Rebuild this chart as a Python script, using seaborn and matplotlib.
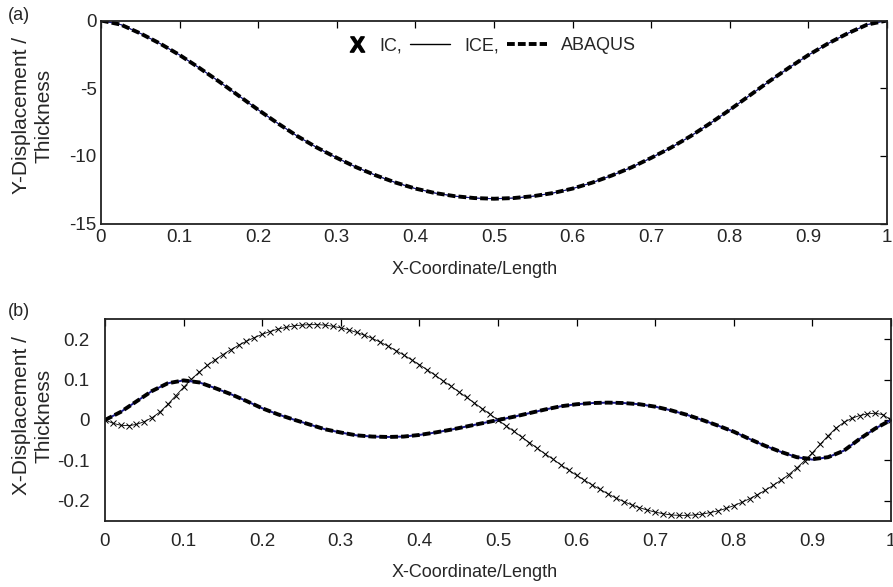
import numpy as np
import matplotlib
matplotlib.use("Agg")
import matplotlib.pyplot as plt
from matplotlib.lines import Line2D
from matplotlib.legend_handler import HandlerLine2DCompound
import seaborn as sns

# ---- data ----
# (a) transverse displacement, sampled every 0.025 of the length
x_a = np.linspace(0, 1, 41)
abaqus_a = [0.00, -0.30, -0.95, -1.70, -2.55, -3.50, -4.50, -5.55, -6.60, -7.60,
            -8.55, -9.40, -10.15, -10.85, -11.45, -11.98, -12.42, -12.75, -12.98, -13.12,
            -13.17, -13.12, -12.98, -12.75, -12.42, -11.98, -11.45, -10.85, -10.15, -9.40,
            -8.55, -7.60, -6.60, -5.55, -4.50, -3.50, -2.55, -1.70, -0.95, -0.30, 0.00]
ice_a = abaqus_a
ic_a = abaqus_a

# (b) axial displacement
x_b = np.linspace(0, 1, 51)
ice_b = [0.000, 0.020, 0.046, 0.072, 0.091, 0.098, 0.093, 0.079, 0.064, 0.047,
         0.029, 0.014, 0.001, -0.011, -0.023, -0.031, -0.038, -0.041, -0.042, -0.041,
         -0.037, -0.031, -0.024, -0.016, -0.008, 0.000, 0.008, 0.017, 0.026, 0.034,
         0.039, 0.042, 0.043, 0.042, 0.039, 0.033, 0.024, 0.013, 0.000, -0.014,
         -0.029, -0.047, -0.064, -0.079, -0.092, -0.098, -0.092, -0.076, -0.047, -0.021,
         0.000]
abaqus_b = [0.000, 0.020, 0.046, 0.072, 0.091, 0.098, 0.093, 0.079, 0.064, 0.047,
            0.029, 0.014, 0.001, -0.011, -0.023, -0.031, -0.038, -0.041, -0.042, -0.041,
            -0.037, -0.031, -0.024, -0.016, -0.008, 0.000, 0.008, 0.017, 0.026, 0.034,
            0.039, 0.042, 0.043, 0.042, 0.039, 0.033, 0.024, 0.013, 0.000, -0.014,
            -0.029, -0.047, -0.064, -0.079, -0.092, -0.097, -0.092, -0.076, -0.047, -0.021,
            0.000]

x_ic = np.linspace(0, 1, 101)
ic_b = [0.000, -0.008, -0.013, -0.014, -0.011, -0.004, 0.006, 0.020, 0.039, 0.060,
        0.081, 0.101, 0.119, 0.135, 0.149, 0.162, 0.174, 0.185, 0.195, 0.204,
        0.212, 0.219, 0.225, 0.229, 0.233, 0.235, 0.236, 0.236, 0.235, 0.232,
        0.228, 0.223, 0.217, 0.210, 0.202, 0.193, 0.183, 0.172, 0.161, 0.149,
        0.137, 0.124, 0.111, 0.097, 0.084, 0.070, 0.056, 0.042, 0.028, 0.014,
        0.000, -0.014, -0.028, -0.042, -0.056, -0.070, -0.084, -0.097, -0.111, -0.124,
        -0.137, -0.149, -0.161, -0.172, -0.183, -0.193, -0.202, -0.210, -0.217, -0.223,
        -0.228, -0.232, -0.235, -0.236, -0.236, -0.235, -0.233, -0.229, -0.225, -0.219,
        -0.212, -0.204, -0.195, -0.185, -0.174, -0.162, -0.149, -0.135, -0.119, -0.101,
        -0.081, -0.060, -0.039, -0.020, -0.006, 0.004, 0.011, 0.015, 0.017, 0.013,
        0.000]

x_ticks = [0, 0.1, 0.2, 0.3, 0.4, 0.5, 0.6, 0.7, 0.8, 0.9, 1]
x_ticklabels = ["0", "0.1", "0.2", "0.3", "0.4", "0.5", "0.6", "0.7", "0.8", "0.9", "1"]
ya_ticks = [-15, -10, -5, 0]
ya_ticklabels = ["-15", "-10", "-5", "0"]
yb_ticks = [-0.2, -0.1, 0, 0.1, 0.2]
yb_ticklabels = ["-0.2", "-0.1", "0", "0.1", "0.2"]

# ---- style ----
sns.set_style("white")
plt.rcParams["font.family"] = ["Liberation Sans", "DejaVu Sans"]
plt.rcParams["font.size"] = 13
plt.rcParams["axes.unicode_minus"] = False
plt.rcParams["mathtext.fontset"] = "custom"
plt.rcParams["mathtext.bf"] = "Liberation Sans:bold"
plt.rcParams["mathtext.rm"] = "Liberation Sans"

ICE_COLOR = "#1a1a8c"
DASH = (0, (2.0, 0.8))

fig = plt.figure(figsize=(8.93, 5.87), dpi=100)
ax_a = fig.add_axes([101 / 893, 1 - 223.5 / 587, 786 / 893, 203 / 587])
ax_b = fig.add_axes([105 / 893, 1 - 521 / 587, 786 / 893, 202 / 587])


def style_axes(ax, yticks, yticklabels, ylim, xpad, ypad):
    ax.set_xlim(0, 1)
    ax.set_ylim(*ylim)
    ax.set_xticks(x_ticks)
    ax.set_xticklabels(x_ticklabels)
    ax.set_yticks(yticks)
    ax.set_yticklabels(yticklabels)
    ax.tick_params(direction="in", top=True, right=True, length=5, width=0.9,
                   labelsize=13.5, color="black")
    ax.tick_params(axis="x", pad=xpad)
    ax.tick_params(axis="y", pad=ypad)
    for s in ax.spines.values():
        s.set_color("#222222")
        s.set_linewidth(1.3)
    ax.set_xlabel("X-Coordinate/Length", fontsize=13)


class RightMarker(HandlerLine2DCompound):
    # put the single marker near the right end of its handle box
    def get_xdata(self, legend, xdescent, ydescent, width, height, fontsize):
        xdata, _ = super().get_xdata(legend, xdescent, ydescent, width, height, fontsize)
        return xdata, np.array([width - xdescent - 6.0])


# panel (a)
sns.lineplot(x=x_a, y=ic_a, ax=ax_a, color="black", lw=0.5, legend=False)
sns.lineplot(x=x_a, y=ice_a, ax=ax_a, color=ICE_COLOR, lw=0.8, legend=False)
sns.lineplot(x=x_a, y=abaqus_a, ax=ax_a, color="black", lw=2.8, linestyle=DASH,
             legend=False)
style_axes(ax_a, ya_ticks, ya_ticklabels, (-15, 0), xpad=4, ypad=3)
ax_a.set_ylabel("Y-Displacement /\nThickness", fontsize=15)
ax_a.yaxis.set_label_coords(-0.061, 0.53)
ax_a.xaxis.set_label_coords(0.475, -0.187)

x_handle = Line2D([], [], color="black", marker=r"$\mathbf{X}$", markersize=11,
                  linestyle="none")
handles = [
    x_handle,
    Line2D([], [], color="black", lw=1.0),
    Line2D([], [], color="black", lw=2.8, linestyle=DASH),
]
ax_a.legend(handles, ["IC,", "ICE,", "ABAQUS"], ncol=3, frameon=False,
            loc="center", bbox_to_anchor=(0.483, 0.875), fontsize=13,
            handlelength=2.2, handletextpad=0.78, columnspacing=0.45,
            handler_map={x_handle: RightMarker(numpoints=1)})

# panel (b)
sns.lineplot(x=x_ic, y=ic_b, ax=ax_b, color="black", lw=0.6, marker="x",
             markersize=3.8, markeredgewidth=0.7, markeredgecolor="black",
             legend=False)
sns.lineplot(x=x_b, y=ice_b, ax=ax_b, color=ICE_COLOR, lw=1.4, legend=False)
sns.lineplot(x=x_b, y=abaqus_b, ax=ax_b, color="black", lw=2.8, linestyle=DASH,
             legend=False)
style_axes(ax_b, yb_ticks, yb_ticklabels, (-0.25, 0.25), xpad=8.3, ypad=11)
ax_b.set_ylabel("X-Displacement /\nThickness", fontsize=15)
ax_b.yaxis.set_label_coords(-0.066, 0.52)
ax_b.xaxis.set_label_coords(0.47, -0.212)

fig.text(8 / 893, 1 - 15 / 587, "(a)", fontsize=13, va="center", ha="left")
fig.text(8 / 893, 1 - 312 / 587, "(b)", fontsize=13, va="center", ha="left")

fig.savefig("out.png", dpi=100)
